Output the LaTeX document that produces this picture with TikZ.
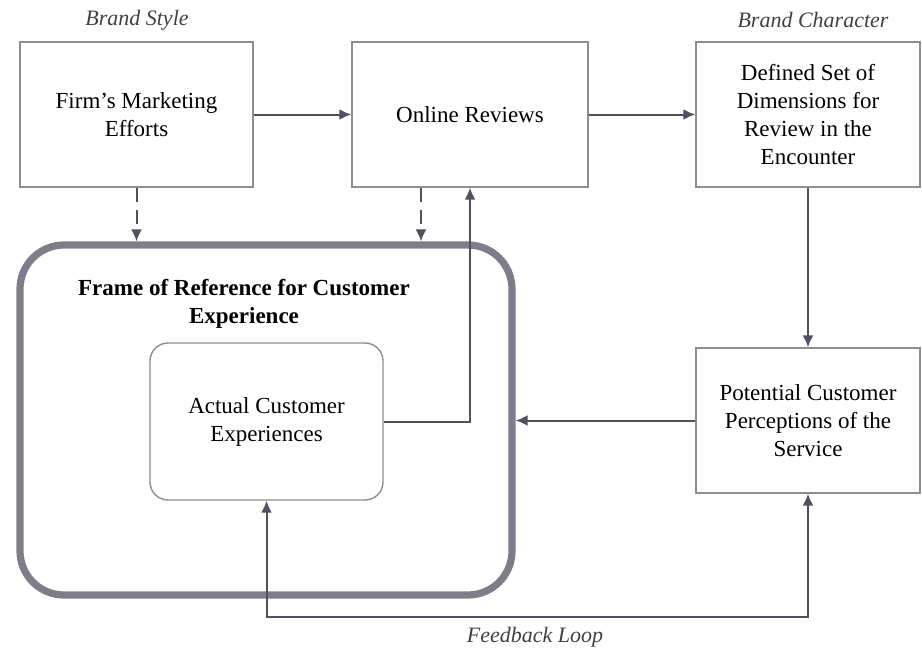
\documentclass[tikz,border=0pt]{standalone}
\usepackage{fontspec}
\setmainfont{Liberation Serif}
\usetikzlibrary{arrows.meta,positioning}

\definecolor{boxgray}{HTML}{8E8E8E}
\definecolor{arrowgray}{HTML}{50505E}
\definecolor{framegray}{HTML}{7E7E8A}

\begin{document}
\begin{tikzpicture}[
  x=0.5pt, y=-0.5pt,
  box/.style={draw=boxgray, line width=0.7pt, align=center,
              minimum width=116.5pt, minimum height=72.5pt,
              inner sep=2pt, font=\fontsize{11.5}{14}\selectfont},
  innerbox/.style={box, rounded corners=9pt, minimum height=78.5pt},
  framebox/.style={draw=framegray, line width=3.6pt, rounded corners=22pt,
                   minimum width=246pt, minimum height=175pt},
  tag/.style={font=\fontsize{11}{13}\selectfont\itshape, text=black!75},
  arrow/.style={-{Latex[length=6pt, width=5.5pt]}, line width=1pt, draw=arrowgray},
  dasharrow/.style={arrow, dash pattern=on 7pt off 4pt}
]
  \useasboundingbox (0,0) rectangle (922,648);

  % top row
  \node[box] (firm) at (136.5,114.5) {Firm’s Marketing\\Efforts};
  \node[box, minimum width=118pt] (online) at (470,114.5) {Online Reviews};
  \node[box, minimum width=112pt] (dims) at (808,114.5)
    {Defined Set of\\Dimensions for\\Review in the\\Encounter};
  \node[tag] (style) at (137,20) {Brand Style};
  \node[tag] (character) at (813,20) {Brand Character};

  % frame of reference
  \node[framebox] (frame) at (266,420) {};
  \node[font=\fontsize{11.5}{14}\selectfont\bfseries, align=center] (frametitle)
    at (244,304) {Frame of Reference for Customer\\Experience};
  \node[innerbox] (actual) at (266.5,421.5) {Actual Customer\\Experiences};

  \node[box, minimum width=112pt] (potential) at (808,420.5)
    {Potential Customer\\Perceptions of the\\Service};

  \coordinate (loopline) at (540,617);
  \node[tag] (loop) at (535,637) {Feedback Loop};

  \draw[arrow] (firm) -- (online);
  \draw[arrow] (online) -- (dims);
  \draw[dasharrow] (firm.south) -- (firm.south |- frame.north);
  \draw[dasharrow] ([xshift=-24.5pt]online.south)
    -- ([xshift=-24.5pt]online.south |- frame.north);
  \draw[arrow] (actual.east) -| (online.south);
  \draw[arrow] (dims) -- (potential);
  \draw[arrow] (potential.west) -- (potential.west -| frame.east);
  \draw[arrow, {Latex[length=6pt, width=5.5pt]}-{Latex[length=6pt, width=5.5pt]}]
    (actual.south) |- (loopline) -| (potential.south);
\end{tikzpicture}
\end{document}
